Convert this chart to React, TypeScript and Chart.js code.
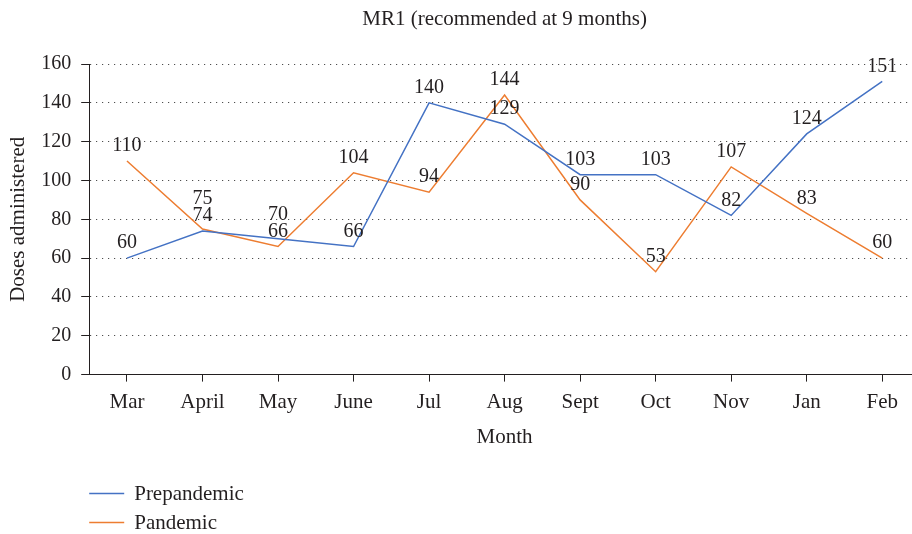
import React, { useEffect, useRef } from "react";
import { Chart, registerables } from "chart.js";

Chart.register(...registerables);

const months = ["Mar", "April", "May", "June", "Jul", "Aug", "Sept", "Oct", "Nov", "Jan", "Feb"];
const prepandemic = [60, 74, 70, 66, 140, 129, 103, 103, 82, 124, 151];
const pandemic = [110, 75, 66, 104, 94, 144, 90, 53, 107, 83, 60];
const yMin = 0;
const yMax = 160;
const yStep = 20;
const chartTitle = "MR1 (recommended at 9 months)";

const FONT = "'Liberation Serif', 'Times New Roman', serif";
const TEXT = "#231f20";
const BLUE = "#4472c4";
const ORANGE = "#ed7d31";

const dataLabelPlugin = {
  id: "dataLabels",
  afterDatasetsDraw(chart: any) {
    const ctx = chart.ctx;
    const n = chart.data.labels.length;
    ctx.save();
    ctx.font = `20px ${FONT}`;
    ctx.fillStyle = TEXT;
    ctx.textAlign = "center";
    ctx.textBaseline = "middle";
    for (let j = 0; j < n; j++) {
      const items: any[] = chart.data.datasets.map((ds: any, i: number) => {
        const pt = chart.getDatasetMeta(i).data[j];
        return { x: pt.x, y: pt.y - 15, v: ds.data[j] };
      });
      items.sort((a, b) => a.v - b.v);
      for (let k = 1; k < items.length; k++) {
        if (items[k].y > items[k - 1].y - 17) items[k].y = items[k - 1].y - 17;
      }
      items.forEach((it) => ctx.fillText(String(it.v), it.x, it.y));
    }
    ctx.restore();
  },
};

const titleAndLegendPlugin = {
  id: "titleAndLegend",
  afterDraw(chart: any) {
    const ctx = chart.ctx;
    const { left, right, bottom } = chart.chartArea;
    ctx.save();
    ctx.font = `21px ${FONT}`;
    ctx.fillStyle = TEXT;
    ctx.textAlign = "center";
    ctx.textBaseline = "middle";
    ctx.fillText(chartTitle, (left + right) / 2, 19);

    const baseY = bottom + 119;
    ctx.textAlign = "left";
    chart.data.datasets.forEach((ds: any, i: number) => {
      const y = baseY + i * 29;
      ctx.strokeStyle = ds.borderColor;
      ctx.lineWidth = 1.5;
      ctx.beginPath();
      ctx.moveTo(left, y);
      ctx.lineTo(left + 35, y);
      ctx.stroke();
      ctx.fillStyle = TEXT;
      ctx.fillText(ds.label, left + 45, y + 1);
    });
    ctx.restore();
  },
};

export default function App() {
  const ref = useRef<HTMLCanvasElement>(null);

  useEffect(() => {
    if (!ref.current) return;
    const chart = new Chart(ref.current, {
      type: "line",
      data: {
        labels: months,
        datasets: [
          {
            label: "Prepandemic",
            data: prepandemic,
            borderColor: BLUE,
            backgroundColor: BLUE,
            borderWidth: 1.5,
            pointRadius: 0,
            tension: 0,
          },
          {
            label: "Pandemic",
            data: pandemic,
            borderColor: ORANGE,
            backgroundColor: ORANGE,
            borderWidth: 1.5,
            pointRadius: 0,
            tension: 0,
          },
        ],
      },
      options: {
        responsive: false,
        animation: false,
        layout: { padding: { left: 0, right: 5, top: 64, bottom: 84 } },
        plugins: {
          legend: { display: false },
          tooltip: { enabled: false },
          title: { display: false },
        },
        scales: {
          x: {
            type: "category",
            offset: true,
            grid: {
              offset: false,
              drawOnChartArea: false,
              drawTicks: true,
              tickLength: 7,
              tickColor: "#231f20",
            },
            border: { display: true, color: "#231f20", width: 1 },
            ticks: {
              color: TEXT,
              font: { family: FONT, size: 21 },
              padding: 8,
              maxRotation: 0,
              autoSkip: false,
            },
            title: {
              display: true,
              text: "Month",
              color: TEXT,
              font: { family: FONT, size: 21 },
              padding: { top: 2, bottom: 0 },
            },
          },
          y: {
            min: yMin,
            max: yMax,
            grid: {
              color: "rgba(60,60,60,0.9)",
              lineWidth: 1,
              drawTicks: true,
              tickLength: 8,
              tickColor: "#231f20",
              tickBorderDash: [],
            },
            border: { display: true, color: "#231f20", width: 1, dash: [1.2, 4.8] },
            ticks: {
              stepSize: yStep,
              color: TEXT,
              font: { family: FONT, size: 20 },
              padding: 10,
            },
            title: {
              display: true,
              text: "Doses administered",
              color: TEXT,
              font: { family: FONT, size: 21 },
              padding: { top: 6, bottom: 0 },
            },
          },
        },
      },
      plugins: [dataLabelPlugin, titleAndLegendPlugin],
    });
    return () => chart.destroy();
  }, []);

  return (
    <div
      style={{
        position: "fixed",
        left: 0,
        top: 0,
        width: 912,
        height: 534,
        overflow: "hidden",
        background: "#fff",
      }}
    >
      <canvas ref={ref} width={925} height={534} style={{ display: "block" }} />
    </div>
  );
}
